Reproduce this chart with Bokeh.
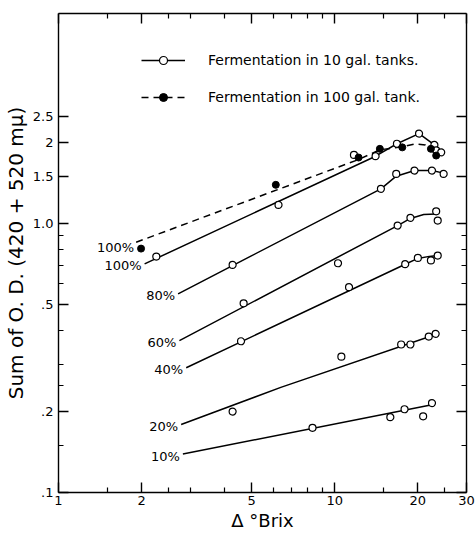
from bokeh.plotting import figure
from bokeh.models import (Range1d, LogAxis, FixedTicker, Legend, LegendItem,
                          ColumnDataSource, CustomJSTickFormatter)
from bokeh.core.properties import value
from bokeh.embed import file_html
from bokeh.resources import INLINE

FONT = "DejaVu Sans"

# ---------------- axis ticks ----------------
x_major = [1, 2, 5, 10, 20, 30]
x_major_labels = ["1", "2", "5", "10", "20", "30"]
x_minor = [1.5, 2.5, 3, 4, 6, 7, 8, 9, 15, 25]
y_major = [0.1, 0.2, 0.5, 1.0, 1.5, 2.0, 2.5]
y_major_labels = [".1", ".2", ".5", "1.0", "1.5", "2", "2.5"]
y_minor = [0.15, 0.25, 0.3, 0.4, 0.6, 0.7, 0.8, 0.9]

# ---------------- observed points: 10 gal tanks (open circles) ----------------
p100_x = [2.26, 6.26, 11.74, 14.06, 16.8, 20.2, 22.96, 23.3, 24.3]
p100_y = [0.754, 1.173, 1.80, 1.78, 1.98, 2.16, 1.96, 1.87, 1.84]
p80_x = [4.27, 14.7, 16.7, 19.45, 22.5, 24.8]
p80_y = [0.702, 1.346, 1.53, 1.574, 1.574, 1.53]
p60_x = [4.68, 10.28, 16.9, 18.8, 23.3, 23.6]
p60_y = [0.505, 0.712, 0.983, 1.05, 1.11, 1.026]
p40_x = [4.58, 11.27, 18.0, 20.0, 22.3, 23.6]
p40_y = [0.365, 0.58, 0.706, 0.745, 0.729, 0.76]
p20_x = [4.27, 10.57, 17.4, 18.8, 21.9, 23.2]
p20_y = [0.20, 0.32, 0.355, 0.355, 0.38, 0.389]
p10_x = [8.31, 15.9, 17.9, 20.9, 22.5]
p10_y = [0.174, 0.1905, 0.204, 0.192, 0.215]

# ---------------- observed points: 100 gal tank (filled circles) ----------------
q100_x = [1.99, 6.12, 12.2, 14.57, 17.56, 22.3, 23.3]
q100_y = [0.807, 1.393, 1.76, 1.896, 1.92, 1.896, 1.79]

# ---------------- drawn curves ----------------
c100_x = [2.05, 14.06, 16.8, 20.2, 22.96, 24.3]
c100_y = [0.708, 1.78, 1.98, 2.16, 1.96, 1.84]
c80_x = [2.71, 14.7, 16.7, 19.45, 22.5, 24.8]
c80_y = [0.548, 1.346, 1.50, 1.574, 1.574, 1.54]
c60_x = [2.74, 16.9, 18.8, 21.0, 23.4]
c60_y = [0.367, 0.983, 1.045, 1.08, 1.085]
c40_x = [2.90, 18.0, 20.0, 22.0, 23.6]
c40_y = [0.291, 0.706, 0.742, 0.755, 0.76]
c20_x = [2.78, 6.38, 23.2]
c20_y = [0.179, 0.246, 0.387]
c10_x = [2.82, 22.5]
c10_y = [0.139, 0.212]
d100_x = [1.91, 12.2, 14.57, 17.56, 19.6, 21.3, 22.3, 23.3]
d100_y = [0.852, 1.73, 1.88, 1.93, 1.98, 1.96, 1.90, 1.79]

curve_labels = ["100%", "80%", "60%", "40%", "20%", "10%"]
dashed_label = "100%"
legend_labels = ["Fermentation in 10 gal. tanks.", "Fermentation in 100 gal. tank."]

x_label = "Δ °Brix"
y_label = "Sum of O. D. (420 + 520 mμ)"

# ---------------- figure ----------------
p = figure(width=475, height=533, x_axis_type="log", y_axis_type="log",
           x_range=Range1d(1, 30), y_range=Range1d(0.1, 6.04),
           output_backend="svg", toolbar_location=None,
           min_border_left=57, min_border_right=9, min_border_top=13,
           min_border_bottom=41)
p.grid.visible = False
p.outline_line_color = None
p.background_fill_color = "white"
p.border_fill_color = "white"


def label_formatter(vals, labels):
    return CustomJSTickFormatter(args=dict(vals=vals, labels=labels), code="""
        for (let i = 0; i < vals.length; i++) {
            if (Math.abs(Math.log(tick) - Math.log(vals[i])) < 1e-6) return labels[i];
        }
        return '';
    """)


def style_axis(ax):
    ax.axis_line_color = "black"
    ax.axis_line_width = 1.4
    ax.major_tick_line_color = "black"
    ax.major_tick_line_width = 1.4
    ax.minor_tick_line_color = "black"
    ax.minor_tick_line_width = 1.2
    ax.major_tick_in = 10
    ax.major_tick_out = 0
    ax.minor_tick_in = 5
    ax.minor_tick_out = 0


xax = p.xaxis[0]
xax.ticker = FixedTicker(ticks=x_major, minor_ticks=x_minor)
xax.formatter = label_formatter(x_major, x_major_labels)
style_axis(xax)
xax.major_label_text_font = FONT
xax.major_label_text_font_size = "13px"
xax.major_label_text_color = "black"
xax.major_label_standoff = 3
xax.axis_label = x_label
xax.axis_label_text_font = FONT
xax.axis_label_text_font_size = "18px"
xax.axis_label_text_font_style = "normal"
xax.axis_label_text_color = "black"
xax.axis_label_text_align = "left"
xax.axis_label_standoff = 2

yax = p.yaxis[0]
yax.ticker = FixedTicker(ticks=y_major, minor_ticks=y_minor)
yax.formatter = label_formatter(y_major, y_major_labels)
style_axis(yax)
yax.major_label_text_font = FONT
yax.major_label_text_font_size = "13px"
yax.major_label_text_color = "black"
yax.major_label_standoff = 5
yax.axis_label = y_label
yax.axis_label_text_font = FONT
yax.axis_label_text_font_size = "20px"
yax.axis_label_text_font_style = "normal"
yax.axis_label_text_color = "black"
yax.axis_label_standoff = 2

top = LogAxis(ticker=FixedTicker(ticks=x_major, minor_ticks=x_minor),
              formatter=CustomJSTickFormatter(code="return '';"),
              major_label_text_font_size="0px", major_label_standoff=0)
style_axis(top)
p.add_layout(top, "above")

right = LogAxis(ticker=FixedTicker(ticks=y_major, minor_ticks=y_minor),
                formatter=CustomJSTickFormatter(code="return '';"),
                major_label_text_font_size="0px", major_label_standoff=0)
style_axis(right)
p.add_layout(right, "right")

# ---------------- curves ----------------
LW = 1.5
r_c100 = p.line(c100_x, c100_y, line_color="black", line_width=LW)
for cx, cy in [(c80_x, c80_y), (c60_x, c60_y), (c40_x, c40_y),
               (c20_x, c20_y), (c10_x, c10_y)]:
    p.line(cx, cy, line_color="black", line_width=LW)
r_d100 = p.line(d100_x, d100_y, line_color="black", line_width=LW,
                line_dash="7 5")

# ---------------- points ----------------
r_p100 = p.scatter(p100_x, p100_y, marker="circle", size=7, fill_color="white",
                   line_color="black", line_width=1.2)
for px, py in [(p80_x, p80_y), (p60_x, p60_y), (p40_x, p40_y),
               (p20_x, p20_y), (p10_x, p10_y)]:
    p.scatter(px, py, marker="circle", size=7, fill_color="white",
              line_color="black", line_width=1.2)
r_q100 = p.scatter(q100_x, q100_y, marker="circle", size=7, fill_color="black",
                   line_color="black")

# ---------------- curve labels ----------------
lab_src = ColumnDataSource(dict(
    x=[c100_x[0], c80_x[0], c60_x[0], c40_x[0], c20_x[0], c10_x[0]],
    y=[c100_y[0], c80_y[0], c60_y[0], c40_y[0], c20_y[0], c10_y[0]],
    text=curve_labels))
p.text(x="x", y="y", text="text", source=lab_src, text_align="right",
       text_baseline="middle", x_offset=-3, y_offset=2,
       text_font=value(FONT), text_font_size="13px", text_color="black")
p.text(x=[d100_x[0]], y=[d100_y[0]], text=[dashed_label], text_align="right",
       text_baseline="middle", x_offset=-2, y_offset=5,
       text_font=value(FONT), text_font_size="13px", text_color="black")

# ---------------- legend ----------------
legend = Legend(items=[LegendItem(label=legend_labels[0], renderers=[r_c100, r_p100]),
                       LegendItem(label=legend_labels[1], renderers=[r_d100, r_q100])],
                location=(83, 385), glyph_width=44, glyph_height=20,
                label_standoff=23, spacing=17, padding=0, margin=0,
                border_line_color=None, background_fill_alpha=0,
                label_text_font=FONT, label_text_font_size="14px",
                label_text_color="black")
p.add_layout(legend)

open("out.html", "w").write(file_html(p, INLINE))
